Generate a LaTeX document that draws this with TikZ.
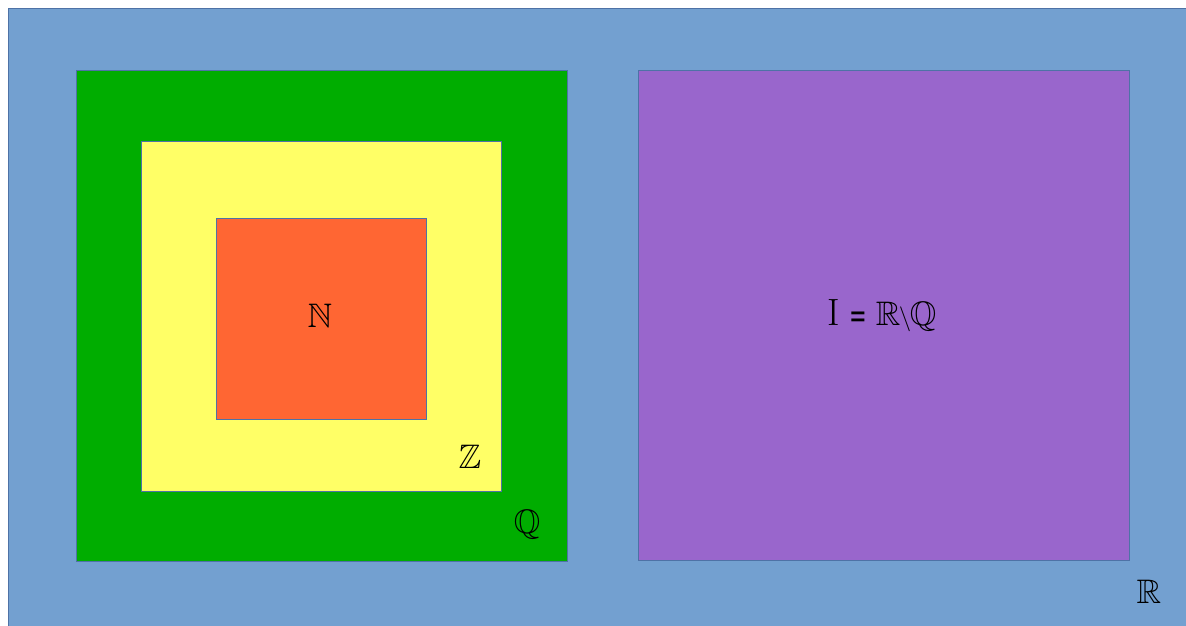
\documentclass[tikz,border=0pt]{standalone}
\usepackage{amssymb}
\usepackage{fontspec}
\newfontfamily\sansbold{Liberation Sans}
\definecolor{bgblue}{HTML}{73A0D0}
\definecolor{edgeblue}{HTML}{4E72A6}
\definecolor{qgreen}{HTML}{00AD00}
\definecolor{zyellow}{HTML}{FFFF66}
\definecolor{norange}{HTML}{FF6633}
\definecolor{ipurple}{HTML}{9966CC}
\tikzset{
  setbox/.style={draw=edgeblue, line width=0.8pt},
  setlabel/.style={font=\fontsize{34}{40}\selectfont, inner sep=0pt}
}
\begin{document}
\begin{tikzpicture}[x=1pt,y=-1pt]
\useasboundingbox (0,0) rectangle (1186,626);
\fill[white] (0,0) rectangle (1186,626);
\draw[setbox, fill=bgblue] (8,8) rectangle (1192,632);
\draw[setbox, fill=qgreen] (76,70) rectangle (567,561);
\draw[setbox, fill=zyellow] (141,141) rectangle (501,491);
\draw[setbox, fill=norange] (216,218) rectangle (426,419);
\draw[setbox, fill=ipurple] (638,70) rectangle (1129,560);
\node[setlabel] (nlab) at (320,316) {$\mathbb{N}$};
\node[setlabel] (zlab) at (470,457) {$\mathbb{Z}$};
\node[setlabel] (qlab) at (527,525) {$\mathbb{Q}$};
\node[setlabel] (rlab) at (1149,592) {$\mathbb{R}$};
\node[setlabel] (ilab) at (882,316) {{\fontsize{38}{40}\selectfont I} {\sansbold\bfseries\fontsize{26}{30}\selectfont =} $\mathbb{R}\mkern-1mu\backslash\mkern-1mu\mathbb{Q}$};
\end{tikzpicture}
\end{document}
